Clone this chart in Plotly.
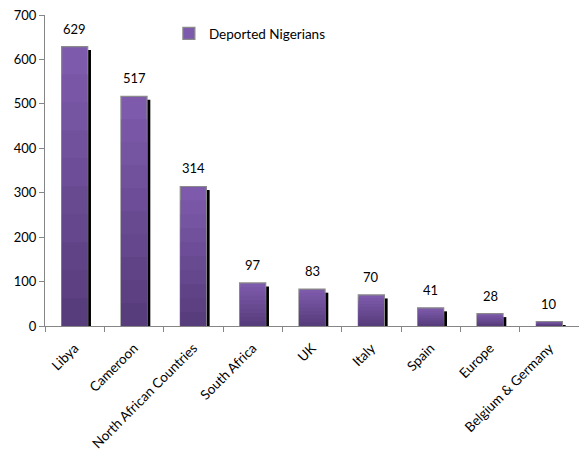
import plotly.graph_objects as go

categories = ["Libya", "Cameroon", "North African Countries", "South Africa", "UK",
              "Italy", "Spain", "Europe", "Belgium & Germany"]
values = [629, 517, 314, 97, 83, 70, 41, 28, 10]
series_name = "Deported Nigerians"
y_ticks = [0, 100, 200, 300, 400, 500, 600, 700]

FONT = "Lato"
BAR_W = 0.44
top_rgb = (125, 90, 171)
bot_rgb = (88, 61, 125)

fig = go.Figure()

# shadow
fig.add_trace(go.Bar(
    x=categories, y=[max(v - 8, 0.8) for v in values],
    width=BAR_W, offset=-BAR_W / 2 + 0.055,
    marker=dict(color="black", line=dict(width=0)),
    showlegend=False, hoverinfo="skip"))

# main bar (full, lightest) with legend
fig.add_trace(go.Bar(
    x=categories, y=values, name=series_name,
    width=BAR_W, offset=-BAR_W / 2,
    marker=dict(color="rgb(%d,%d,%d)" % top_rgb, line=dict(color="#8a8a8a", width=1.2))))

# gradient layers
N = 10
for k in range(1, N):
    f = 1 - k / N
    t = k / (N - 1)
    c = tuple(int(round(top_rgb[i] + (bot_rgb[i] - top_rgb[i]) * t)) for i in range(3))
    fig.add_trace(go.Bar(
        x=categories, y=[v * f for v in values],
        width=BAR_W - 0.012, offset=-BAR_W / 2 + 0.006,
        marker=dict(color="rgb(%d,%d,%d)" % c, line=dict(width=0)),
        showlegend=False, hoverinfo="skip"))

for c, v in zip(categories, values):
    fig.add_annotation(x=c, y=v, text=str(v), showarrow=False, yanchor="bottom",
                       yshift=8, font=dict(family=FONT, size=13, color="black"))

fig.update_layout(
    width=579, height=457,
    margin=dict(l=45, r=0, t=15, b=131),
    barmode="overlay",
    plot_bgcolor="white", paper_bgcolor="white",
    font=dict(family=FONT, size=13, color="black"),
    legend=dict(x=0.232, y=0.99, xanchor="left", yanchor="top",
                font=dict(family=FONT, size=13.5), itemwidth=30,
                bgcolor="rgba(0,0,0,0)"),
    showlegend=True,
)
fig.update_xaxes(
    tickangle=-45, tickson="boundaries", ticks="outside", ticklen=5,
    tickcolor="#868686", showline=True, linecolor="#868686", linewidth=1,
    showgrid=False, tickfont=dict(family=FONT, size=13.5), ticklabelstandoff=8)
fig.update_yaxes(
    range=[0, 700], tickvals=y_ticks, ticks="outside", ticklen=5,
    tickcolor="#868686", showline=True, linecolor="#868686", linewidth=1,
    showgrid=False, zeroline=False, tickfont=dict(family=FONT, size=13))

fig.write_html("out.html")
